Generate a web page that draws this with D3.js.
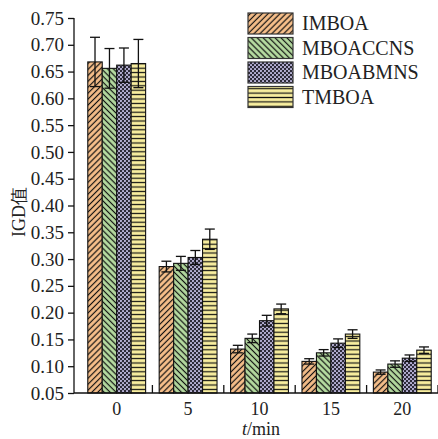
<!DOCTYPE html>
<html>
<head>
<meta charset="utf-8">
<script src="https://cdn.jsdelivr.net/npm/d3@7"></script>
<style>
  body { margin: 0; background: #fff; }
  text { font-family: "Liberation Serif", "Times New Roman", serif; fill: #222; }
</style>
</head>
<body>
<svg width="438" height="439"></svg>
<script>
const groups = ["0", "5", "10", "15", "20"];
const series = ["IMBOA", "MBOACCNS", "MBOABMNS", "TMBOA"];
// mean values per series, one per group
const IMBOA    = [0.668, 0.286, 0.132, 0.109, 0.089];
const MBOACCNS = [0.656, 0.292, 0.152, 0.125, 0.104];
const MBOABMNS = [0.662, 0.303, 0.185, 0.143, 0.115];
const TMBOA    = [0.665, 0.337, 0.207, 0.160, 0.130];
// error (+/-) per series
const errIMBOA    = [0.046, 0.010, 0.007, 0.005, 0.004];
const errMBOACCNS = [0.037, 0.013, 0.008, 0.006, 0.006];
const errMBOABMNS = [0.032, 0.013, 0.010, 0.008, 0.006];
const errTMBOA    = [0.045, 0.019, 0.009, 0.008, 0.006];
const yTicks = [0.05, 0.10, 0.15, 0.20, 0.25, 0.30, 0.35, 0.40, 0.45, 0.50, 0.55, 0.60, 0.65, 0.70, 0.75];

const values = { IMBOA, MBOACCNS, MBOABMNS, TMBOA };
const errors = { IMBOA: errIMBOA, MBOACCNS: errMBOACCNS, MBOABMNS: errMBOABMNS, TMBOA: errTMBOA };

const svg = d3.select("svg");
const plotLeft = 74, plotRight = 438, plotTop = 18, plotBottom = 393;

const x0 = d3.scaleBand().domain(groups).range([81, 438]).paddingInner(0.19).paddingOuter(0.095);
const x1 = d3.scaleBand().domain(series).range([0, x0.bandwidth()]);
const y = d3.scaleLinear().domain([0.05, 0.75]).range([plotBottom, plotTop]);

// patterns
const defs = svg.append("defs");
function linePattern(id, bg, rotate, size) {
  const p = defs.append("pattern").attr("id", id)
    .attr("patternUnits", "userSpaceOnUse")
    .attr("width", size).attr("height", size)
    .attr("patternTransform", `rotate(${rotate})`);
  p.append("rect").attr("width", size).attr("height", size).attr("fill", bg);
  p.append("line").attr("x1", 0).attr("y1", size / 2).attr("x2", size).attr("y2", size / 2)
    .attr("stroke", "#111").attr("stroke-width", 1.2);
}
linePattern("p0", "#f7bf8a", -45, 4.2);
linePattern("p1", "#b5dba0", 45, 4.2);
linePattern("p3", "#f8ee9f", 0, 4.4);
const dots = defs.append("pattern").attr("id", "p2")
  .attr("patternUnits", "userSpaceOnUse").attr("width", 4).attr("height", 4);
dots.append("rect").attr("width", 4).attr("height", 4).attr("fill", "#2c2a38");
dots.append("circle").attr("cx", 1).attr("cy", 1).attr("r", 1.05).attr("fill", "#c0bbe0");
dots.append("circle").attr("cx", 3).attr("cy", 3).attr("r", 1.05).attr("fill", "#c0bbe0");
const fills = { IMBOA: "url(#p0)", MBOACCNS: "url(#p1)", MBOABMNS: "url(#p2)", TMBOA: "url(#p3)" };

// bars
const rows = [];
groups.forEach((gk, i) => series.forEach(s => rows.push({ g: gk, s, v: values[s][i], e: errors[s][i] })));

svg.append("g").selectAll("rect").data(rows).enter().append("rect")
  .attr("x", d => x0(d.g) + x1(d.s))
  .attr("y", d => y(d.v))
  .attr("width", x1.bandwidth())
  .attr("height", d => y(0.05) - y(d.v))
  .attr("fill", d => fills[d.s])
  .attr("stroke", "#111").attr("stroke-width", 1.1);

// error bars
const eb = svg.append("g").attr("stroke", "#111").attr("stroke-width", 1.3);
rows.forEach(d => {
  const cx = x0(d.g) + x1(d.s) + x1.bandwidth() / 2;
  eb.append("line").attr("x1", cx).attr("x2", cx).attr("y1", y(d.v + d.e)).attr("y2", y(d.v - d.e));
  eb.append("line").attr("x1", cx - 5).attr("x2", cx + 5).attr("y1", y(d.v + d.e)).attr("y2", y(d.v + d.e));
  eb.append("line").attr("x1", cx - 5).attr("x2", cx + 5).attr("y1", y(d.v - d.e)).attr("y2", y(d.v - d.e));
});

// y axis
const yAxis = svg.append("g").attr("transform", `translate(${plotLeft},0)`)
  .call(d3.axisLeft(y).tickValues(yTicks).tickFormat(d3.format(".2f")).tickSize(6).tickPadding(4));
yAxis.select(".domain").attr("d", `M-0,${plotTop}V${plotBottom}`).attr("stroke", "#111").attr("stroke-width", 1.3);
yAxis.selectAll(".tick line").attr("stroke", "#111").attr("stroke-width", 1.3);
yAxis.selectAll("text").style("font-size", "19px").style("font-family", "Liberation Serif").attr("fill", "#333");

// x axis
svg.append("line").attr("x1", plotLeft).attr("x2", plotRight).attr("y1", plotBottom).attr("y2", plotBottom)
  .attr("stroke", "#111").attr("stroke-width", 1.3);
const step = x0.step();
svg.append("g").selectAll("line").data(groups).enter().append("line")
  .attr("x1", d => x0(d) + x0.bandwidth() / 2 + step / 2)
  .attr("x2", d => x0(d) + x0.bandwidth() / 2 + step / 2)
  .attr("y1", plotBottom).attr("y2", plotBottom - 8)
  .attr("stroke", "#111").attr("stroke-width", 1.3);
svg.append("g").selectAll("text").data(groups).enter().append("text")
  .attr("x", d => x0(d) + x0.bandwidth() / 2)
  .attr("y", 415)
  .attr("text-anchor", "middle")
  .style("font-size", "18px").attr("fill", "#333")
  .text(d => d);

// axis titles
const xt = svg.append("text").attr("x", 261).attr("y", 435).attr("text-anchor", "middle")
  .style("font-size", "18px").attr("fill", "#333");
xt.append("tspan").style("font-style", "italic").text("t");
xt.append("tspan").text("/min");

svg.append("text").attr("transform", "translate(25,212) rotate(-90)")
  .attr("text-anchor", "middle").style("font-size", "18px").attr("fill", "#333")
  .text("IGD值");

// legend
const legend = svg.append("g").attr("transform", "translate(248,13)");
series.forEach((s, i) => {
  const row = legend.append("g").attr("transform", `translate(0,${i * 24.5})`);
  row.append("rect").attr("width", 45).attr("height", 21).attr("fill", fills[s])
    .attr("stroke", "#333").attr("stroke-width", 1.2);
  row.append("text").attr("x", 54).attr("y", 17).style("font-size", "20px").attr("fill", "#222").text(s);
});
</script>
</body>
</html>
